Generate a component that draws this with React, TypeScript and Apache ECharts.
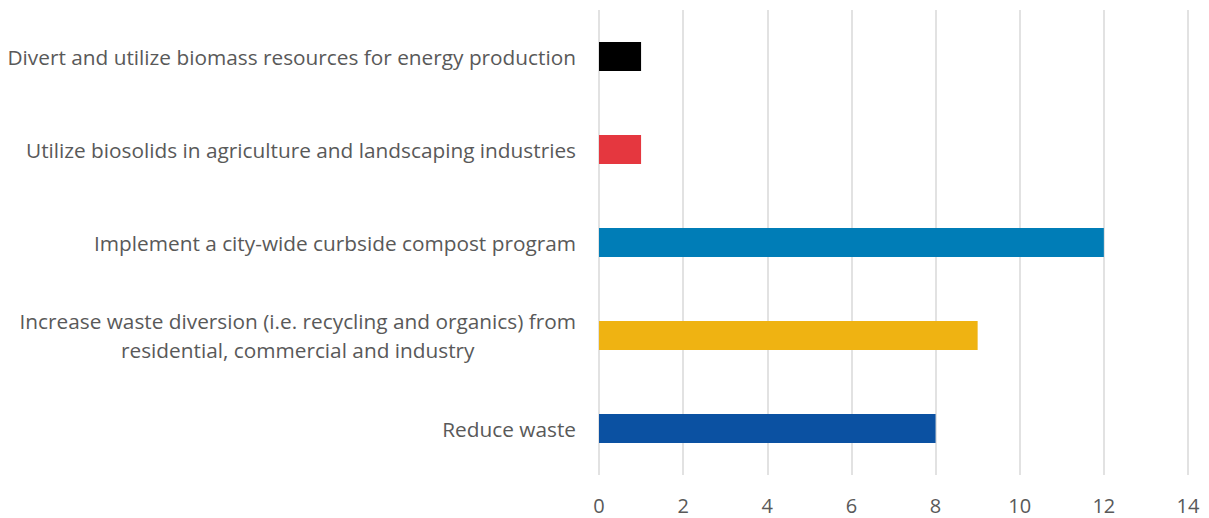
import React, { useEffect, useRef } from "react";
import * as echarts from "echarts";

const categories = [
  "Reduce waste",
  "Increase waste diversion (i.e. recycling and organics) from\nresidential, commercial and industry",
  "Implement a city-wide curbside compost program",
  "Utilize biosolids in agriculture and landscaping industries",
  "Divert and utilize biomass resources for energy production",
];
const values = [8, 9, 12, 1, 1];
const colors = ["#0b51a2", "#efb312", "#007db7", "#e5373f", "#000000"];
const xTicks = [0, 2, 4, 6, 8, 10, 12, 14];

const FONT = "Open Sans";
const FS = 20.8;

export default function App() {
  const ref = useRef<HTMLDivElement>(null);
  useEffect(() => {
    const chart = echarts.init(ref.current!, null, { renderer: "svg" });
    chart.setOption({
      animation: false,
      grid: { left: 599, right: 21, top: 10, bottom: 43, containLabel: false },
      xAxis: {
        type: "value",
        min: xTicks[0],
        max: xTicks[xTicks.length - 1],
        interval: 2,
        axisLine: { show: false },
        axisTick: { show: false },
        splitLine: { lineStyle: { color: "#d9d9d9", width: 1.5 } },
        axisLabel: { color: "#595959", fontSize: 20, fontFamily: FONT, margin: 20 },
      },
      yAxis: {
        type: "category",
        data: categories,
        axisLine: { show: false },
        axisTick: { show: false },
        axisLabel: {
          color: "#595959",
          fontSize: FS,
          fontFamily: FONT,
          margin: 23,
          lineHeight: 29,
          formatter: (v: string) =>
            v.includes("\n") ? v.split("\n").map((l) => `{c|${l}}`).join("\n") : v,
          rich: {
            c: { align: "center", color: "#595959", fontSize: FS, fontFamily: FONT, lineHeight: 29 },
          },
        },
      },
      series: [
        {
          type: "bar",
          barWidth: 29,
          data: values.map((v, i) => ({ value: v, itemStyle: { color: colors[i] } })),
        },
      ],
    });
    return () => chart.dispose();
  }, []);
  return (
    <div
      ref={ref}
      style={{ position: "absolute", left: 0, top: 0, width: 1209, height: 518, background: "#fff" }}
    />
  );
}
